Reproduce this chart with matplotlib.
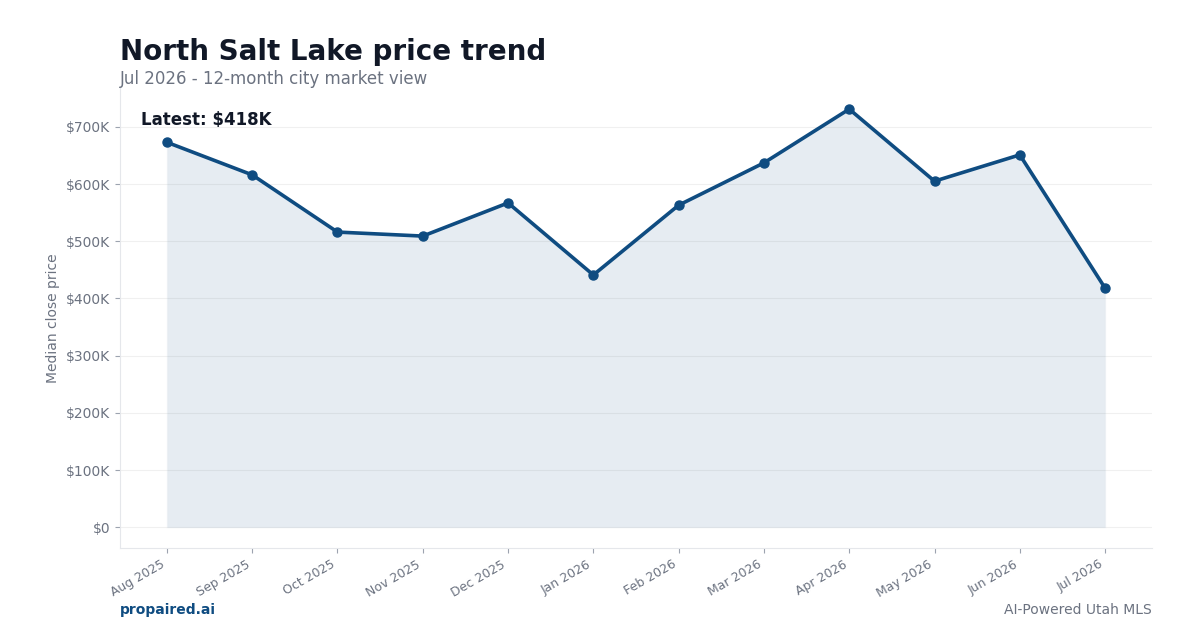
import matplotlib.pyplot as plt
import numpy as np

months = ["Aug 2025", "Sep 2025", "Oct 2025", "Nov 2025", "Dec 2025", "Jan 2026",
          "Feb 2026", "Mar 2026", "Apr 2026", "May 2026", "Jun 2026", "Jul 2026"]
prices = [673, 616, 516, 509, 567, 441, 563, 637, 731, 605, 651, 418]  # $K

navy = "#0f4c81"
gray = "#6b7280"
dark = "#111827"

x = np.arange(len(months))
y = np.array(prices) * 1000

fig = plt.figure(figsize=(12, 6.3), dpi=100)
ax = fig.add_axes([0.1, 0.13, 0.86, 0.73])

ax.fill_between(x, 0, y, color=navy, alpha=0.1, linewidth=1.0, edgecolor="#c9d6e3")
ax.plot(x, y, color=navy, lw=2.6, marker="o", markersize=6.5, zorder=3)

ax.set_xticks(x)
ax.set_xticklabels(months, rotation=30, ha="right", fontsize=9, color=gray)
ax.set_yticks(np.arange(0, 700001, 100000))
ax.set_yticklabels(["$0"] + [f"${v}K" for v in range(100, 701, 100)], fontsize=10, color=gray)
ax.tick_params(axis="both", colors="#9ca3af", labelcolor=gray)
ax.set_ylabel("Median close price", color=gray, fontsize=10)

ax.grid(axis="y", color="#f0f0f0", lw=0.8)
ax.set_axisbelow(True)
for s in ["top", "right"]:
    ax.spines[s].set_visible(False)
for s in ["left", "bottom"]:
    ax.spines[s].set_color("#e5e7eb")

ax.text(0.02, 0.95, f"Latest: ${prices[-1]}K", transform=ax.transAxes,
        fontsize=12, fontweight="bold", color=dark, va="top")

fig.text(0.1, 0.918, "North Salt Lake price trend", fontsize=20, fontweight="bold",
         color=dark, va="center")
fig.text(0.1, 0.875, "Jul 2026 - 12-month city market view", fontsize=12,
         color=gray, va="center")
fig.text(0.1, 0.032, "propaired.ai", fontsize=10, fontweight="bold", color=navy, va="center")
fig.text(0.96, 0.032, "AI-Powered Utah MLS", fontsize=10, color=gray, va="center", ha="right")

fig.savefig("out.png", dpi=100)
